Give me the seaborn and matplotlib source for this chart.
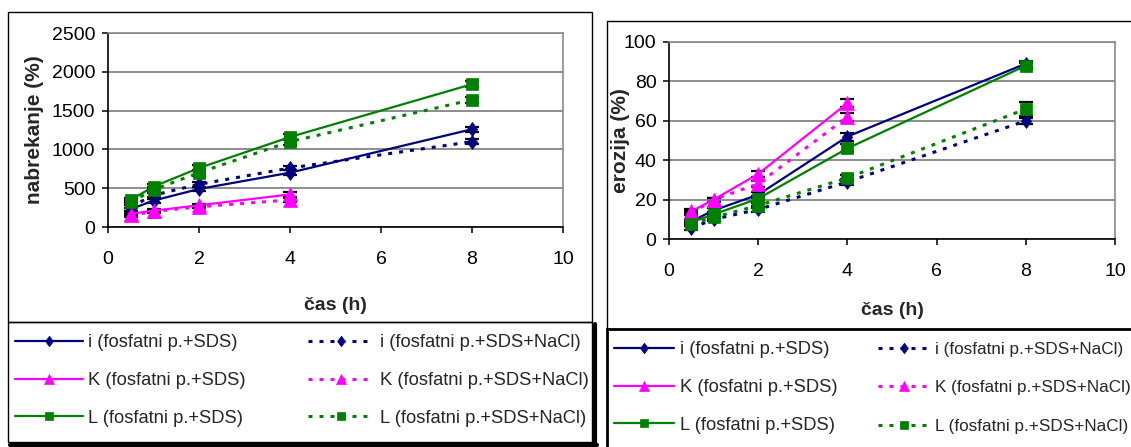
import numpy as np
import pandas as pd
import seaborn as sns
import matplotlib
matplotlib.use("Agg")
import matplotlib.pyplot as plt
from matplotlib import font_manager
from matplotlib.patches import Rectangle
from matplotlib.lines import Line2D

# ---------------- data ----------------
time_full = [0.5, 1, 2, 4, 8]
time_short = [0.5, 1, 2, 4]
x_ticks = [0, 2, 4, 6, 8, 10]

labels_sds = ["i (fosfatni p.+SDS)", "K (fosfatni p.+SDS)", "L (fosfatni p.+SDS)"]
labels_nacl = ["i (fosfatni p.+SDS+NaCl)", "K (fosfatni p.+SDS+NaCl)", "L (fosfatni p.+SDS+NaCl)"]

# left panel: swelling (nabrekanje, %)
swell_i_sds = [230, 340, 490, 700, 1260]
swell_i_nacl = [260, 410, 550, 760, 1100]
swell_k_sds = [170, 210, 280, 420]
swell_k_nacl = [150, 200, 260, 350]
swell_l_sds = [350, 520, 760, 1160, 1840]
swell_l_nacl = [320, 480, 700, 1100, 1640]
swell_err_i_sds = [20, 25, 30, 30, 30]
swell_err_i_nacl = [20, 25, 30, 30, 30]
swell_err_k_sds = [20, 20, 20, 30]
swell_err_k_nacl = [20, 20, 20, 30]
swell_err_l_sds = [25, 30, 40, 40, 40]
swell_err_l_nacl = [25, 30, 40, 40, 40]
swell_yticks = [0, 500, 1000, 1500, 2000, 2500]

# right panel: erosion (erozija, %)
eros_i_sds = [9, 14.5, 22.5, 52, 89]
eros_i_nacl = [5.5, 10, 15, 29, 60]
eros_k_sds = [14, 20, 33, 69]
eros_k_nacl = [13, 20, 28, 62]
eros_l_sds = [8.5, 12.5, 20.5, 46, 88]
eros_l_nacl = [7.5, 11, 17, 31, 66]
eros_err_i_sds = [1, 1, 1.5, 2, 1.5]
eros_err_i_nacl = [1, 1, 1.5, 1.5, 1.5]
eros_err_k_sds = [1, 1, 1.5, 2]
eros_err_k_nacl = [1, 1, 1.5, 2]
eros_err_l_sds = [1, 1, 1.5, 2, 1.5]
eros_err_l_nacl = [1, 1, 1.5, 1.5, 3.5]
eros_yticks = [0, 20, 40, 60, 80, 100]

# ---------------- style ----------------
sns.set_style("white")
names = {f.name for f in font_manager.fontManager.ttflist}
narrow = "Liberation Sans Narrow" if "Liberation Sans Narrow" in names else "Liberation Sans"
plt.rcParams["font.family"] = [narrow, "DejaVu Sans"]

NAVY, MAGENTA, GREEN = "#000080", "#FF00FF", "#008000"
DIAMOND = [(0, 1), (0.75, 0), (0, -1), (-0.75, 0), (0, 1)]
DOT = (0, (1.3, 2.3))

TICK_FS = 14
LEG_FS = 13.2
ROW_PX = 38.0

W, H = 1131, 447
fig = plt.figure(figsize=(W / 100, H / 100), dpi=100)


def fx(x):
    return x / W


def fy(y):
    return 1 - y / H


def axes_px(x0, y0, x1, y1):
    return fig.add_axes([fx(x0), fy(y1), (x1 - x0) / W, (y1 - y0) / H])


def frame(x0, y0, x1, y1, lw=1.0):
    fig.add_artist(Rectangle((fx(x0), fy(y1)), (x1 - x0) / W, (y1 - y0) / H,
                             transform=fig.transFigure, fill=False, lw=lw,
                             edgecolor="black", zorder=0))


def hline(x0, x1, y, lw):
    fig.add_artist(Line2D([fx(x0), fx(x1)], [fy(y), fy(y)], lw=lw, color="black",
                          transform=fig.transFigure))


def vline(x, y0, y1, lw):
    fig.add_artist(Line2D([fx(x), fx(x)], [fy(y0), fy(y1)], lw=lw, color="black",
                          transform=fig.transFigure))


def draw_panel(ax, series, yticks, ylabel, xlabel_y, ylabel_x):
    for label, t, vals, err, color, marker, ms, ls, lw in series:
        ax.errorbar(t, vals, yerr=err, fmt="none", ecolor="black", elinewidth=1,
                    capsize=5, capthick=1.6, zorder=2)
        sns.lineplot(x=t, y=vals, ax=ax, color=color, marker=marker, markersize=ms,
                     markeredgecolor=color, markeredgewidth=0.5, linestyle=ls,
                     linewidth=lw, label=label, legend=False, zorder=3)
    ax.set_xlim(0, 10)
    ax.set_ylim(yticks[0], yticks[-1])
    ax.set_xticks(x_ticks)
    ax.set_yticks(yticks)
    ax.yaxis.grid(True, color="#7a7a7a", lw=1.2)
    ax.xaxis.grid(False)
    ax.set_axisbelow(True)
    for s in ["left", "bottom"]:
        ax.spines[s].set_color("black")
        ax.spines[s].set_linewidth(1.2)
    for s in ["top", "right"]:
        ax.spines[s].set_color("#8a8a8a")
        ax.spines[s].set_linewidth(1.2)
    ax.tick_params(axis="both", which="major", bottom=True, left=True, direction="out",
                   length=4, width=1.1, color="black", labelsize=TICK_FS, labelcolor="black")
    ax.tick_params(axis="x", pad=13)
    ax.tick_params(axis="y", pad=5)
    ax.set_xlabel("čas (h)", fontsize=14, fontweight="bold", family=[narrow, "DejaVu Sans"])
    ax.xaxis.set_label_coords(0.5, xlabel_y)
    ax.set_ylabel(ylabel, fontsize=15, fontweight="bold", family=["Liberation Sans", "DejaVu Sans"])
    ax.yaxis.set_label_coords(ylabel_x, 0.5)


def legends(ax, x1, x2, ytop, hl1_px, hl2_px, fs2=LEG_FS, extra2=0.0):
    handles, labs = ax.get_legend_handles_labels()
    common = dict(frameon=False, loc="upper left", bbox_transform=fig.transFigure,
                  borderaxespad=0, borderpad=0, handletextpad=0.3, markerscale=0.75)

    def spacing(fs, extra):
        em = fs * 100 / 72
        return (ROW_PX + extra - 0.93 * em) / em

    em1 = LEG_FS * 100 / 72
    em2 = fs2 * 100 / 72
    leg1 = ax.legend(handles[:3], labs[:3], bbox_to_anchor=(fx(x1), fy(ytop)),
                     handlelength=hl1_px / em1, fontsize=LEG_FS,
                     labelspacing=spacing(LEG_FS, 0.0), **common)
    ax.add_artist(leg1)
    top2 = ytop + 0.465 * (em1 - em2)
    ax.legend(handles[3:], labs[3:], bbox_to_anchor=(fx(x2), fy(top2)),
              handlelength=hl2_px / em2, fontsize=fs2,
              labelspacing=spacing(fs2, extra2), **common)


# ---------------- frames ----------------
frame(8, 12, 592, 322)
frame(8, 322, 592, 442)
vline(594.5, 324, 447, 3)
hline(10, 597, 444.5, 3)
frame(607, 21, 1140, 329)
frame(607, 329, 1140, 452, lw=2)

# ---------------- left panel ----------------
axL = axes_px(108, 33, 563, 227)
left_series = [
    (labels_sds[0], time_full, swell_i_sds, swell_err_i_sds, NAVY, DIAMOND, 10, "-", 1.6),
    (labels_sds[1], time_short, swell_k_sds, swell_err_k_sds, MAGENTA, "^", 9.5, "-", 1.6),
    (labels_sds[2], time_full, swell_l_sds, swell_err_l_sds, GREEN, "s", 8.5, "-", 1.6),
    (labels_nacl[0], time_full, swell_i_nacl, swell_err_i_nacl, NAVY, DIAMOND, 10, DOT, 2.2),
    (labels_nacl[1], time_short, swell_k_nacl, swell_err_k_nacl, MAGENTA, "^", 9.5, DOT, 2.2),
    (labels_nacl[2], time_full, swell_l_nacl, swell_err_l_nacl, GREEN, "s", 8.5, DOT, 2.2),
]
draw_panel(axL, left_series, swell_yticks, "nabrekanje (%)", -0.36, -0.14)
legends(axL, 15, 308, 334, 68, 66)

# ---------------- right panel ----------------
axR = axes_px(669, 42, 1115, 239)
right_series = [
    (labels_sds[0], time_full, eros_i_sds, eros_err_i_sds, NAVY, DIAMOND, 10, "-", 1.6),
    (labels_sds[1], time_short, eros_k_sds, eros_err_k_sds, MAGENTA, "^", 9.5, "-", 1.6),
    (labels_sds[2], time_full, eros_l_sds, eros_err_l_sds, GREEN, "s", 8.5, "-", 1.6),
    (labels_nacl[0], time_full, eros_i_nacl, eros_err_i_nacl, NAVY, DIAMOND, 10, DOT, 2.2),
    (labels_nacl[1], time_short, eros_k_nacl, eros_err_k_nacl, MAGENTA, "^", 9.5, DOT, 2.2),
    (labels_nacl[2], time_full, eros_l_nacl, eros_err_l_nacl, GREEN, "s", 8.5, DOT, 2.2),
]
draw_panel(axR, right_series, eros_yticks, "erozija (%)", -0.32, -0.088)
legends(axR, 614, 878, 341, 60, 52, fs2=12.3, extra2=1.6)

fig.savefig("out.png", dpi=100)
